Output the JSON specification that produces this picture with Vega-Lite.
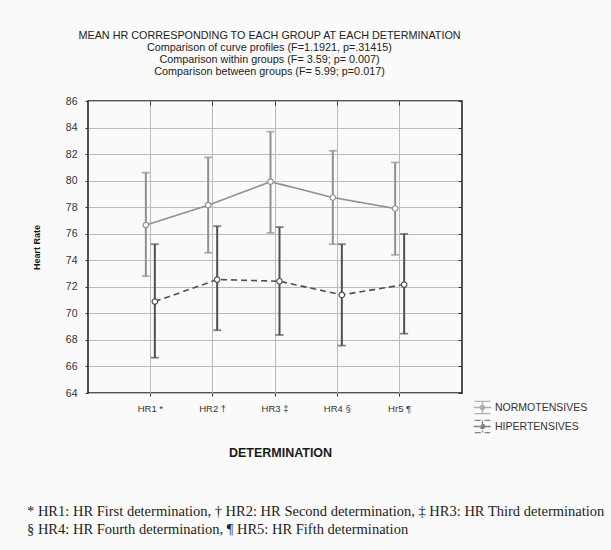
{
  "$schema": "https://vega.github.io/schema/vega-lite/v6.json",
  "width": 374,
  "height": 292,
  "autosize": {"type": "none"},
  "padding": {"left": 88, "top": 101, "right": 149, "bottom": 157},
  "background": "#fafafa",
  "config": {
    "font": "Liberation Sans",
    "view": {"stroke": "#1a1a1a", "strokeWidth": 1.5},
    "axis": {"domain": false, "labelColor": "#333333", "titleColor": "#1a1a1a"},
    "legend": {
      "orient": "none",
      "legendX": 385,
      "legendY": 297,
      "title": null,
      "symbolType": "M-0.9,-0.7H0.9M0,-0.7V0.7M-0.9,0.7H0.9M-1,0H-0.25M0.25,0H1M0.25,0A0.25,0.25 0 1,1 -0.25,0A0.25,0.25 0 1,1 0.25,0",
      "symbolSize": 300,
      "symbolStrokeWidth": 1.3,
      "labelFontSize": 10.5,
      "labelColor": "#333333",
      "labelOffset": 3,
      "rowPadding": 0,
      "symbolFillColor": "#ffffff"
    }
  },
  "title": {
    "text": [
      "* HR1: HR First determination, † HR2: HR Second determination, ‡ HR3: HR Third determination",
      "§ HR4: HR Fourth determination, ¶ HR5: HR Fifth determination"
    ],
    "orient": "bottom",
    "anchor": "start",
    "frame": "group",
    "dx": -61,
    "offset": 46,
    "font": "Liberation Serif",
    "fontSize": 14.5,
    "fontWeight": "normal",
    "lineHeight": 18,
    "color": "#222222"
  },
  "data": {
    "values": [
      {"det": "HR1 *", "group": "NORMOTENSIVES", "mean": 76.65, "lower": 72.8, "upper": 80.6},
      {"det": "HR2 †", "group": "NORMOTENSIVES", "mean": 78.15, "lower": 74.56, "upper": 81.75},
      {"det": "HR3 ‡", "group": "NORMOTENSIVES", "mean": 79.92, "lower": 76.07, "upper": 83.69},
      {"det": "HR4 §", "group": "NORMOTENSIVES", "mean": 78.73, "lower": 75.21, "upper": 82.25},
      {"det": "Hr5 ¶", "group": "NORMOTENSIVES", "mean": 77.9, "lower": 74.41, "upper": 81.37},
      {"det": "HR1 *", "group": "HIPERTENSIVES", "mean": 70.89, "lower": 66.66, "upper": 75.21},
      {"det": "HR2 †", "group": "HIPERTENSIVES", "mean": 72.55, "lower": 68.73, "upper": 76.57},
      {"det": "HR3 ‡", "group": "HIPERTENSIVES", "mean": 72.42, "lower": 68.37, "upper": 76.5},
      {"det": "HR4 §", "group": "HIPERTENSIVES", "mean": 71.39, "lower": 67.57, "upper": 75.21},
      {"det": "Hr5 ¶", "group": "HIPERTENSIVES", "mean": 72.17, "lower": 68.47, "upper": 75.99}
    ]
  },
  "layer": [
    {
      "mark": {"type": "line", "strokeWidth": 1.6},
      "encoding": {
        "x": {
          "field": "det", "type": "nominal", "sort": ["HR1 *", "HR2 †", "HR3 ‡", "HR4 §", "Hr5 ¶"],
          "scale": {"type": "band", "paddingInner": 0.711, "paddingOuter": 0.856},
          "axis": {
            "orient": "bottom", "labelAngle": 0, "labelFontSize": 9.5, "labelPadding": 7,
            "ticks": true, "tickSize": 3, "tickColor": "#333333", "grid": false,
            "title": "DETERMINATION", "titleFontSize": 12.5, "titleFontWeight": "bold",
            "titleX": 192, "titleY": 59, "titleBaseline": "middle"
          }
        },
        "xOffset": {"field": "group", "type": "nominal", "sort": ["NORMOTENSIVES", "HIPERTENSIVES"]},
        "y": {
          "field": "mean", "type": "quantitative",
          "scale": {"domain": [64, 86], "nice": false, "zero": false},
          "axis": {
            "orient": "left", "values": [64, 66, 68, 70, 72, 74, 76, 78, 80, 82, 84, 86],
            "labelFontSize": 10.5, "labelPadding": 8, "ticks": true, "tickSize": 3, "tickColor": "#333333", "grid": false,
            "title": "Heart Rate", "titleFontSize": 9, "titleFontWeight": "bold",
            "titleX": -52, "titleY": 146, "titleBaseline": "middle", "titleAngle": -90
          }
        },
        "color": {
          "field": "group", "type": "nominal",
          "scale": {"domain": ["NORMOTENSIVES", "HIPERTENSIVES"], "range": ["#909090", "#505050"]}
        },
        "strokeDash": {
          "field": "group", "type": "nominal",
          "scale": {"domain": ["NORMOTENSIVES", "HIPERTENSIVES"], "range": [[1, 0], [6, 4]]}
        },
        "strokeWidth": {"value": 1.6}
      }
    },
    {
      "mark": {"type": "rule", "strokeWidth": 2},
      "encoding": {
        "x": {"field": "det", "type": "nominal", "sort": ["HR1 *", "HR2 †", "HR3 ‡", "HR4 §", "Hr5 ¶"], "axis": null},
        "xOffset": {"field": "group", "type": "nominal", "sort": ["NORMOTENSIVES", "HIPERTENSIVES"]},
        "y": {"field": "lower", "type": "quantitative", "axis": null},
        "y2": {"field": "upper"},
        "color": {"field": "group", "type": "nominal"}
      }
    },
    {
      "mark": {"type": "tick", "size": 8, "thickness": 1.8},
      "encoding": {
        "x": {"field": "det", "type": "nominal", "sort": ["HR1 *", "HR2 †", "HR3 ‡", "HR4 §", "Hr5 ¶"], "axis": null},
        "xOffset": {"field": "group", "type": "nominal", "sort": ["NORMOTENSIVES", "HIPERTENSIVES"]},
        "y": {"field": "lower", "type": "quantitative", "axis": null},
        "color": {"field": "group", "type": "nominal"}
      }
    },
    {
      "mark": {"type": "tick", "size": 8, "thickness": 1.8},
      "encoding": {
        "x": {"field": "det", "type": "nominal", "sort": ["HR1 *", "HR2 †", "HR3 ‡", "HR4 §", "Hr5 ¶"], "axis": null},
        "xOffset": {"field": "group", "type": "nominal", "sort": ["NORMOTENSIVES", "HIPERTENSIVES"]},
        "y": {"field": "upper", "type": "quantitative", "axis": null},
        "color": {"field": "group", "type": "nominal"}
      }
    },
    {
      "mark": {"type": "point", "shape": "circle", "filled": false, "fill": "#ffffff", "fillOpacity": 1, "size": 30, "strokeWidth": 1.2, "opacity": 1},
      "encoding": {
        "x": {
          "field": "det", "type": "nominal", "sort": ["HR1 *", "HR2 †", "HR3 ‡", "HR4 §", "Hr5 ¶"],
          "axis": {
            "orient": "top", "labels": false, "ticks": true, "tickSize": -4, "tickColor": "#333333",
            "grid": true, "gridColor": "#bbbbbb", "gridWidth": 1, "gridOpacity": 1,
            "title": [
              "MEAN HR CORRESPONDING TO EACH GROUP AT EACH DETERMINATION",
              "Comparison of curve profiles (F=1.1921, p=.31415)",
              "Comparison within groups (F= 3.59; p= 0.007)",
              "Comparison between groups (F= 5.99; p=0.017)"
            ],
            "titleFontSize": 10.8, "titleFontWeight": "normal", "titleColor": "#222222", "titleLineHeight": 12,
            "titleX": 181, "titleY": -72, "titleBaseline": "top", "titleAlign": "center"
          }
        },
        "xOffset": {"field": "group", "type": "nominal", "sort": ["NORMOTENSIVES", "HIPERTENSIVES"]},
        "y": {
          "field": "mean", "type": "quantitative",
          "axis": {"orient": "right", "labels": false, "ticks": true, "tickSize": -4, "tickColor": "#333333",
            "grid": true, "gridColor": "#bbbbbb", "gridWidth": 1, "gridOpacity": 1,
            "title": null, "values": [64, 66, 68, 70, 72, 74, 76, 78, 80, 82, 84, 86]}
        },
        "color": {"field": "group", "type": "nominal"}
      }
    }
  ]
}
